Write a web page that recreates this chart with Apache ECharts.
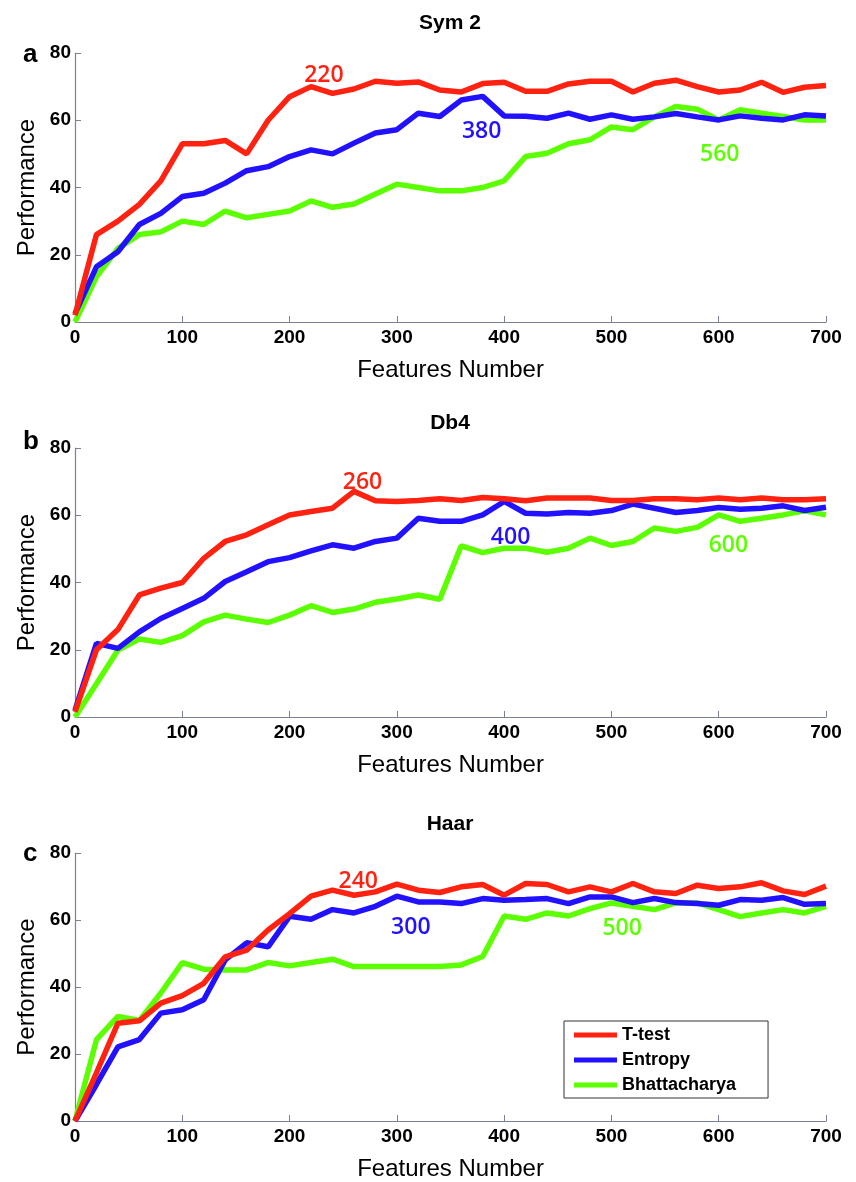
<!DOCTYPE html>
<html><head><meta charset="utf-8">
<script src="https://cdn.jsdelivr.net/npm/echarts@6/dist/echarts.min.js"></script>
<style>html,body{margin:0;padding:0;background:#fff}#c{width:856px;height:1182px}</style>
</head><body><div id="c"></div>
<script>
const features = [0,20,40,60,80,100,120,140,160,180,200,220,240,260,280,300,320,340,360,380,400,420,440,460,480,500,520,540,560,580,600,620,640,660,680,700];
const yTicks = [0,20,40,60,80];
const xTicks = [0,100,200,300,400,500,600,700];
const seriesNames = ['T-test','Entropy','Bhattacharya'];
const panelTitles = ['Sym 2','Db4','Haar'];
const panelLetters = ['a','b','c'];

// Panel a (Sym 2)
const symTtest   = [2,26,30,35,42,53,53,54,50,60,67,70,68,69.3,71.6,71,71.4,69,68.4,70.9,71.3,68.6,68.6,70.8,71.6,71.6,68.4,71,71.9,70,68.4,69,71.3,68.3,69.8,70.3];
const symEntropy = [2.5,16.4,20.9,29,32.3,37.3,38.3,41.3,45,46.2,49.2,51.2,50,53.2,56.2,57.2,62.1,61.1,66,67.1,61.3,61.2,60.6,62.1,60.3,61.6,60.3,61,62,61,60.1,61.3,60.6,60.1,61.6,61.3];
const symBhatt   = [0,13.4,21.9,26,26.8,30,29,33,31,32,33,36,34.1,35.1,38.1,41,40,39,39,40,42,49.2,50.2,53,54.2,58,57.2,61,64.1,63.3,60.1,63.1,62.1,61.1,60.1,60.1];
// Panel b (Db4)
const dbTtest    = [1.5,20,26,36.3,38.3,40,47.2,52.2,54.2,57.2,60.1,61.1,62.1,67.1,64.3,64.1,64.4,64.9,64.4,65.3,64.9,64.3,65.1,65.1,65.1,64.4,64.4,64.9,64.9,64.6,65.1,64.6,65.1,64.6,64.6,64.9];
const dbEntropy  = [2,21.9,20.4,25.3,29.3,32.3,35.3,40.3,43.2,46.2,47.4,49.4,51.2,50.2,52.2,53.2,59.1,58.2,58.2,60.1,64.1,60.6,60.4,60.8,60.6,61.4,63.3,62.1,60.8,61.4,62.3,61.8,62.1,62.8,61.4,62.4];
const dbBhatt    = [0,9.9,19.9,23.2,22.2,24.2,28.3,30.3,29.1,28.1,30.3,33.1,31.1,32.1,34.1,35.1,36.3,35,50.9,48.9,50.2,50.2,49,50.2,53.2,51,52.2,56.2,55.2,56.4,60.1,58.2,59.1,60.1,61.3,60.1];
// Panel c (Haar)
const haarTtest  = [0,14.4,29.2,29.9,35.2,37.4,41.1,49,51,57,61.9,67.1,68.9,67.4,68.4,70.7,68.9,68.2,69.9,70.6,67.4,70.9,70.6,68.4,69.9,68.4,70.9,68.4,67.9,70.4,69.4,69.9,71.1,68.7,67.6,70.1];
const haarEntropy= [0,10.9,22.1,24.3,32.2,33.2,36.2,48.1,53.2,52,61.1,60.2,63.1,62.1,64.1,67.1,65.4,65.4,64.9,66.4,65.9,66.1,66.4,64.9,66.9,66.9,65.2,66.4,65.2,64.9,64.4,66.1,65.9,66.7,64.7,64.9];
const haarBhatt  = [0,24.3,31.2,30,38.2,47.3,45.3,45.1,45.1,47.3,46.3,47.3,48.3,46.1,46.1,46.1,46.1,46.1,46.6,49.1,61.2,60.2,62.1,61.2,63.4,65.1,64.1,63.1,65.1,65.1,63.1,61,62.1,63.1,62.1,64.1];

// Annotations: [text, series index, x, y] in data units (label centre)
const annotA = [['220',0,232,73.4],['380',1,379,56.8],['560',2,601,49.8]];
const annotB = [['260',0,268,69.9],['400',1,406,53.3],['600',2,609,50.9]];
const annotC = [['240',0,264,71.4],['300',1,313,57.8],['500',2,510,57.4]];

const panels = [[symTtest,symEntropy,symBhatt],[dbTtest,dbEntropy,dbBhatt],[haarTtest,haarEntropy,haarBhatt]];
const annots = [annotA,annotB,annotC];
const colors = ['#ff2211','#2211ff','#5cff00'];
const tops = [53,448,853];
const titleTops = [13,413,814];
const letterTops = [42,429,841];
const plotH = 269;
const FF = '"Liberation Sans", Arial, sans-serif';

const grid=[], xAxis=[], yAxis=[], series=[], title=[];
panels.forEach((p,i)=>{
  grid.push({left:75, right:30, top:tops[i], height:plotH, containLabel:false});
  title.push({text:panelTitles[i], left:450, top:titleTops[i], textAlign:'center', padding:0,
    textStyle:{fontFamily:FF, fontWeight:'bold', fontSize:21, color:'#000'}});
  title.push({text:panelLetters[i], left:23, top:letterTops[i], padding:0,
    textStyle:{fontFamily:FF, fontWeight:'bold', fontSize:26, color:'#000'}});
  const axLine = {show:true, lineStyle:{color:'#7c8096', width:1.2}};
  xAxis.push({gridIndex:i, type:'value', min:0, max:700, interval:100,
    name:'Features Number', nameLocation:'middle', nameGap:36,
    nameTextStyle:{fontFamily:FF, fontSize:24, color:'#000'},
    axisLine:axLine, axisTick:{show:true, inside:true, length:6, lineStyle:{color:'#7c8096'}},
    axisLabel:{margin:6, fontFamily:FF, fontWeight:'bold', fontSize:19, color:'#000',
      formatter:v=>xTicks.includes(v)?String(v):''},
    splitLine:{show:false}});
  yAxis.push({gridIndex:i, type:'value', min:0, max:80, interval:20,
    name:'Performance', nameLocation:'middle', nameGap:36,
    nameTextStyle:{fontFamily:FF, fontSize:24, color:'#000'},
    axisLine:axLine, axisTick:{show:true, inside:true, length:6, lineStyle:{color:'#7c8096'}},
    axisLabel:{margin:4, fontFamily:FF, fontWeight:'bold', fontSize:19, color:'#000',
      formatter:v=>yTicks.includes(v)?String(v):''},
    splitLine:{show:false}});
  p.forEach((vals,k)=>{
    const mk = annots[i].filter(a=>a[1]===k).map(a=>({coord:[a[2],a[3]], value:a[0]}));
    series.push({name:seriesNames[k], type:'line', xAxisIndex:i, yAxisIndex:i,
      data:features.map((f,j)=>[f,vals[j]]), showSymbol:false, symbol:'none',
      lineStyle:{color:colors[k], width:5.5}, itemStyle:{color:colors[k]},
      z: 3-k, animation:false,
      markPoint:{symbol:'circle', symbolSize:1, itemStyle:{color:'rgba(0,0,0,0)'},
        label:{show:true, position:'inside', formatter:'{c}', color:colors[k],
          fontFamily:'"Open Sans", sans-serif', fontWeight:600, fontSize:23},
        data:mk}});
  });
});

const chart = echarts.init(document.getElementById('c'), null, {renderer:'canvas'});
chart.setOption({
  animation:false,
  backgroundColor:'#fff',
  title:title,
  legend:{data:seriesNames, orient:'vertical', left:564, top:1021,
    itemWidth:43, itemHeight:5, icon:'rect', itemGap:7,
    padding:[5,32,4,10], borderColor:'#333', borderWidth:1, backgroundColor:'#fff',
    textStyle:{fontFamily:FF, fontWeight:'bold', fontSize:18, color:'#000', lineHeight:18}},
  grid:grid, xAxis:xAxis, yAxis:yAxis, series:series
});
</script></body></html>
